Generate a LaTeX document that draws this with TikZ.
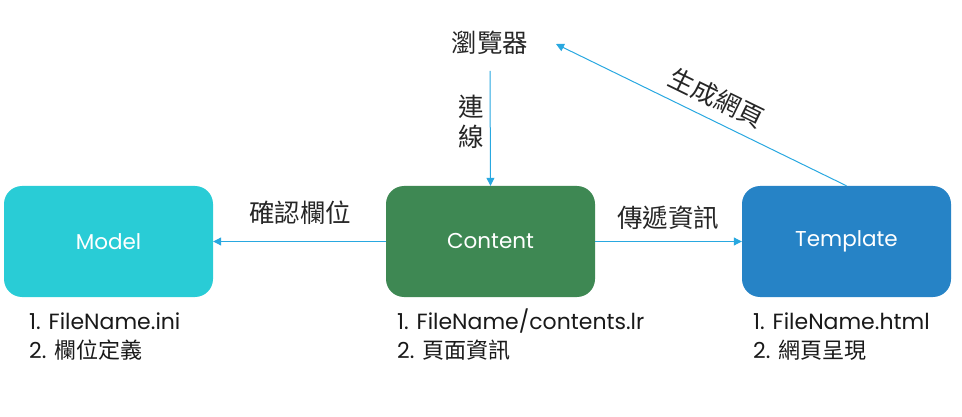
\documentclass[tikz,border=0pt]{standalone}
\usepackage{fontspec}
\setmainfont{Poppins}
\newfontfamily\cjk{Noto Sans CJK TC}
\usetikzlibrary{arrows.meta}
\definecolor{modelc}{HTML}{29CCD6}
\definecolor{contentc}{HTML}{3E8853}
\definecolor{templc}{HTML}{2683C6}
\definecolor{arrc}{HTML}{29A8E0}
\tikzset{
  box/.style={rounded corners=18pt, minimum width=209pt, minimum height=111pt, inner sep=0pt, text=white, font=\fontsize{21.5}{25}\selectfont},
  conn/.style={draw=arrc, line width=1pt, -{Triangle[length=8pt,width=8pt]}},
  lbl/.style={font=\cjk\fontsize{25.5}{30}\selectfont, inner sep=0pt, text=black!85},
  below/.style={anchor=west, inner sep=0pt, font=\fontsize{22}{26}\selectfont, text=black!90},
}
\begin{document}
\begin{tikzpicture}[x=1pt,y=-1pt]
\useasboundingbox (0,0) rectangle (962,417);
\node[box, fill=modelc] (model) at (108.5,241.5) {Model};
\node[box, fill=contentc] (content) at (490.5,241.5) {Content};
\node[box, fill=templc] (templ) at (846.5,241.5) {Template};
\node[lbl] (browser) at (490,43) {瀏覽器};
\coordinate (bt) at (490,71);
\coordinate (bh) at (556,44);
\draw[conn] (bt) -- (content.north);
\draw[conn] (content.west) -- (model.east);
\draw[conn] (content.east) -- (templ.west);
\draw[conn] (templ.north) -- (bh);
\node[lbl, align=center] (lconn) at (471,122) {連\\[0pt]線};
\node[lbl] (lcheck) at (300,213) {確認欄位};
\node[lbl] (lpass) at (668,218) {傳遞資訊};
\node[lbl, rotate=-26] (lgen) at (717,98) {生成網頁};
\node[below] (m1) at (29,321) {1. FileName.ini};
\node[below] (m2) at (29,350) {2. {\cjk 欄位定義}};
\node[below] (c1) at (397,321) {1. FileName/contents.lr};
\node[below] (c2) at (397,350) {2. {\cjk 頁面資訊}};
\node[below] (t1) at (753,321) {1. FileName.html};
\node[below] (t2) at (753,350) {2. {\cjk 網頁呈現}};
\end{tikzpicture}
\end{document}
